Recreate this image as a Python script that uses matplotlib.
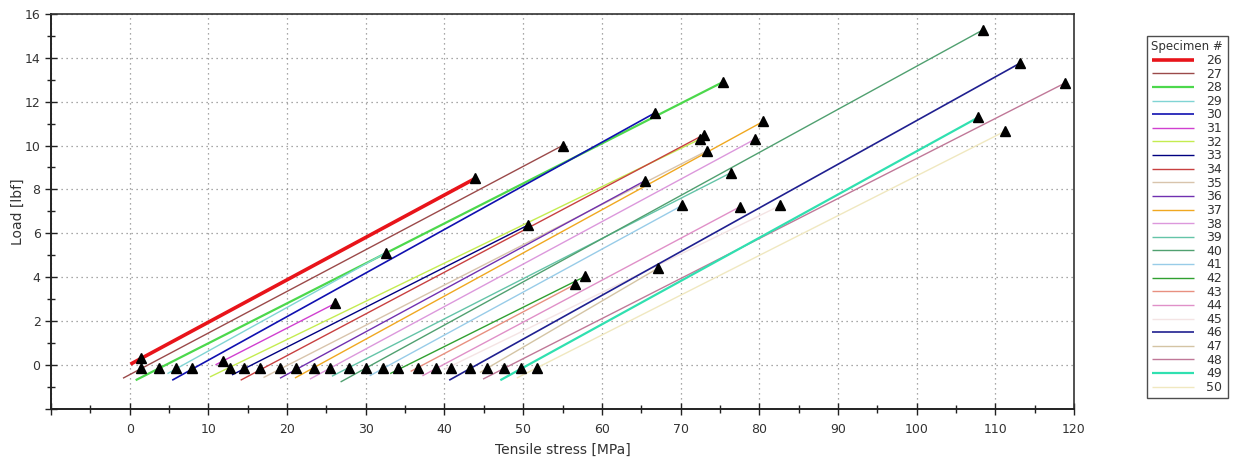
import numpy as np
import matplotlib
matplotlib.use('Agg')
import matplotlib.pyplot as plt
from matplotlib.ticker import MultipleLocator, FuncFormatter

# specimen numbers
specimens = list(range(26, 51))

# straight load/stress segments: start and break point
x_start = [0.1, -0.85, 0.76, 4.8, 5.4, 10.9, 10.2, 13.0, 14.1, 17.0, 19.1, 21.0, 22.9,
           25.7, 26.8, 30.5, 33.1, 35.7, 37.2, 40.0, 40.6, 44.5, 44.9, 47.1, 49.2]
y_start = [0.03, -0.61, -0.70, -0.40, -0.70, 0.0, -0.55, -0.46, -0.70, -0.58, -0.61, -0.60, -0.65,
           -0.52, -0.78, -0.50, -0.40, -0.30, -0.50, -0.20, -0.70, -0.35, -0.65, -0.70, -0.60]
x_end = [43.9, 55.0, 75.4, 32.6, 66.8, 26.1, 72.5, 50.6, 73.0, 73.3, 65.5, 80.5, 79.5,
         76.4, 108.4, 70.2, 57.9, 56.6, 77.5, 82.7, 113.2, 67.1, 118.9, 107.8, 111.2]
y_end = [8.5, 10.0, 12.9, 5.12, 11.5, 2.8, 10.3, 6.37, 10.5, 9.75, 8.4, 11.1, 10.3,
         8.76, 15.27, 7.27, 4.04, 3.67, 7.2, 7.27, 13.77, 4.4, 12.86, 11.28, 10.65]

# lower markers (start of evaluation)
mark_x = [1.5, 1.5, 3.7, 5.9, 7.9, 11.9, 12.8, 14.5, 16.5, 19.1, 21.1, 23.4, 25.4,
          27.9, 30.0, 32.2, 34.1, 36.6, 38.9, 40.8, 43.2, 45.4, 47.6, 49.7, 51.8]
mark_y = [0.30, -0.15, -0.15, -0.15, -0.15, 0.18, -0.15, -0.15, -0.15, -0.15, -0.15, -0.15, -0.15,
          -0.15, -0.15, -0.15, -0.15, -0.15, -0.15, -0.15, -0.15, -0.15, -0.15, -0.15, -0.15]

colors = ['#e8141a', '#9b4a4a', '#4cd84c', '#80d4d4', '#1010b0', '#d040d0', '#c4ec50',
          '#000080', '#c84040', '#d8c4ac', '#7030b0', '#f0a820', '#dc98dc', '#64c4a8',
          '#50a070', '#98cce8', '#30a030', '#e89080', '#e090c8', '#f4e4e4', '#202090',
          '#d4c4a4', '#c07898', '#30e0b0', '#f0e8c0']
widths = [2.6, 1, 1.6, 1, 1.2, 1, 1, 1, 1, 1, 1, 1, 1,
          1, 1, 1, 1, 1, 1, 1, 1.2, 1, 1, 1.6, 1]

fig = plt.figure(figsize=(12.35, 4.59), dpi=100)
ax = fig.add_axes([51/1235, 1 - 408.7/459, (1074 - 51)/1235, (408.7 - 14)/459])

for i, s in enumerate(specimens):
    ax.plot([x_start[i], x_end[i]], [y_start[i], y_end[i]], color=colors[i],
            lw=widths[i], label=str(s), solid_capstyle='butt')

ax.plot(mark_x, mark_y, ls='none', marker='^', ms=7, color='black', zorder=5)
ax.plot(x_end, y_end, ls='none', marker='^', ms=7, color='black', zorder=5)

ax.set_xlim(-10, 120)
ax.set_ylim(-2, 16)
ax.xaxis.set_major_locator(MultipleLocator(10))
ax.xaxis.set_minor_locator(MultipleLocator(5))
ax.yaxis.set_major_locator(MultipleLocator(2))
ax.yaxis.set_minor_locator(MultipleLocator(1))
fmt = FuncFormatter(lambda v, p: '' if v < 0 else '%d' % v)
ax.xaxis.set_major_formatter(fmt)
ax.yaxis.set_major_formatter(fmt)
ax.tick_params(which='major', direction='inout', length=8, width=1, labelsize=9,
               labelcolor='#333333', color='#222222')
ax.tick_params(which='minor', direction='inout', length=6, width=1, color='#222222')
ax.tick_params(axis='x', pad=6)

ax.grid(which='major', ls=(0, (1, 3)), color='#8c8c8c', lw=0.9)
for sp in ['left', 'bottom']:
    ax.spines[sp].set_linewidth(1.4)
    ax.spines[sp].set_color('#222222')
for sp in ['top', 'right']:
    ax.spines[sp].set_linewidth(1.2)
    ax.spines[sp].set_color('#333333')

ax.set_xlabel('Tensile stress [MPa]', fontsize=10, color='#333333', labelpad=5)
ax.set_ylabel('Load [lbf]', fontsize=10, color='#333333', labelpad=0)

leg = fig.legend(loc='upper left', bbox_to_anchor=(1147/1235, 1 - 36/459),
                 borderaxespad=0, title='Specimen #', fontsize=9, title_fontsize=8.5,
                 handlelength=3.3, handletextpad=1.0, labelspacing=0.05,
                 borderpad=0.35, fancybox=False, frameon=True)
leg.get_frame().set_edgecolor('#222222')
leg.get_frame().set_linewidth(1)
leg.get_title().set_color('#333333')
for t in leg.get_texts():
    t.set_color('#333333')

fig.savefig('out.png', dpi=100)
